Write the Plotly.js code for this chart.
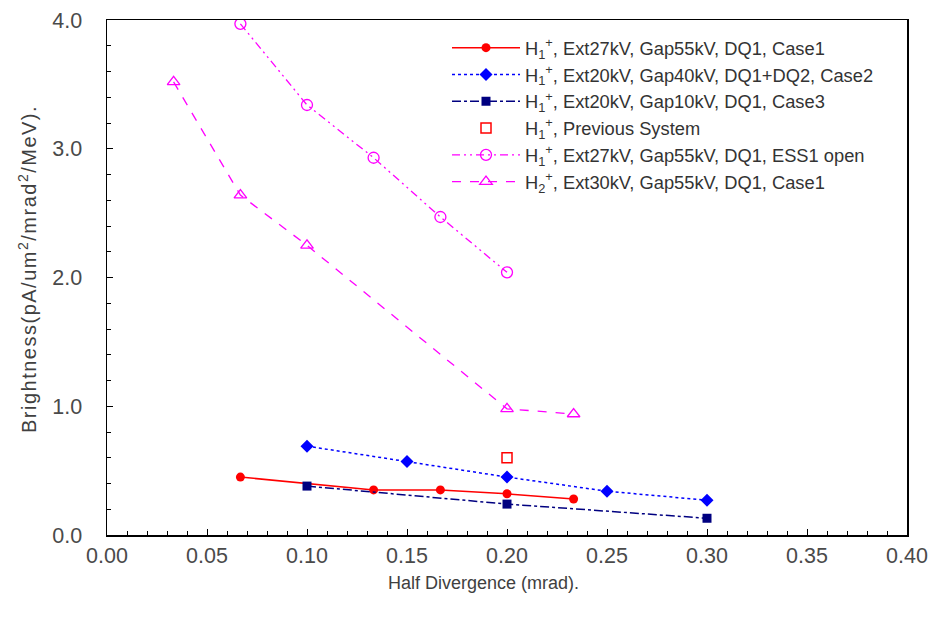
<!DOCTYPE html>
<html>
<head>
<meta charset="utf-8">
<script src="https://cdn.plot.ly/plotly-3.0.1.min.js"></script>
<style>
html,body{margin:0;padding:0;background:#fff;}
#chart{width:938px;height:624px;}
.annotation[data-index="1"] text{letter-spacing:1.5px;}
</style>
</head>
<body>
<div id="chart"></div>
<script>
// Data
const case1X = [0.0667, 0.1333, 0.1667, 0.2, 0.2333];
const case1Y = [0.45, 0.35, 0.35, 0.32, 0.28];
const case2X = [0.1, 0.15, 0.2, 0.25, 0.3];
const case2Y = [0.69, 0.57, 0.45, 0.34, 0.27];
const case3X = [0.1, 0.2, 0.3];
const case3Y = [0.38, 0.24, 0.13];
const prevX = [0.2];
const prevY = [0.60];
const essX = [0.0667, 0.1, 0.1333, 0.1667, 0.2];
const essY = [3.97, 3.34, 2.93, 2.47, 2.04];
const h2X = [0.0333, 0.0667, 0.1, 0.2, 0.2333];
const h2Y = [3.52, 2.64, 2.25, 0.98, 0.94];
const seriesNames = [
  'H<sub>1</sub><sup>+</sup>, Ext27kV, Gap55kV, DQ1, Case1',
  'H<sub>1</sub><sup>+</sup>, Ext20kV, Gap40kV, DQ1+DQ2, Case2',
  'H<sub>1</sub><sup>+</sup>, Ext20kV, Gap10kV, DQ1, Case3',
  'H<sub>1</sub><sup>+</sup>, Previous System',
  'H<sub>1</sub><sup>+</sup>, Ext27kV, Gap55kV, DQ1, ESS1 open',
  'H<sub>2</sub><sup>+</sup>, Ext30kV, Gap55kV, DQ1, Case1'
];
const xTitle = 'Half Divergence (mrad).';
const yTitle = 'Brightness(pA/um<sup>2</sup>/mrad<sup>2</sup>/MeV).';

const traces = [
  {x: case1X, y: case1Y, name: seriesNames[0], mode: 'lines+markers',
   line: {color: '#ff0000', width: 1.5, dash: 'solid'},
   marker: {symbol: 'circle', color: '#ff0000', size: 9}},
  {x: case2X, y: case2Y, name: seriesNames[1], mode: 'lines+markers',
   line: {color: '#0000ff', width: 1.5, dash: 'dot'},
   marker: {symbol: 'diamond', color: '#0000ff', size: 10}},
  {x: case3X, y: case3Y, name: seriesNames[2], mode: 'lines+markers',
   line: {color: '#000080', width: 1.5, dash: 'dashdot'},
   marker: {symbol: 'square', color: '#000080', size: 9}},
  {x: prevX, y: prevY, name: seriesNames[3], mode: 'markers',
   marker: {symbol: 'square-open', color: '#ff0000', size: 10, line: {width: 1.5}}},
  {x: essX, y: essY, name: seriesNames[4], mode: 'lines+markers',
   line: {color: '#ff00ff', width: 1.3, dash: '8px,4px,2px,4px,2px,4px'},
   marker: {symbol: 'circle-open', color: '#ff00ff', size: 11, line: {width: 1.3}}},
  {x: h2X, y: h2Y, name: seriesNames[5], mode: 'lines+markers',
   line: {color: '#ff00ff', width: 1.3, dash: 'dash'},
   marker: {symbol: 'triangle-up-open', color: '#ff00ff', size: 11, line: {width: 1.3}}}
];

const fam = 'Liberation Sans, Arial, sans-serif';

const layout = {
  width: 938, height: 624,
  margin: {l: 107, r: 31, t: 20, b: 89},
  paper_bgcolor: '#fff', plot_bgcolor: '#fff',
  font: {family: fam, color: '#404040'},
  showlegend: true,
  legend: {x: 0.425, y: 0.982, xanchor: 'left', yanchor: 'top',
    bgcolor: 'rgba(0,0,0,0)', borderwidth: 0,
    font: {family: fam, size: 18.3, color: '#333'},
    tracegroupgap: 0, itemwidth: 68},
  xaxis: {
    range: [0, 0.4], dtick: 0.05, tickformat: '.2f',
    showgrid: false, zeroline: false,
    showline: true, linecolor: '#000', linewidth: 1.5, mirror: true,
    ticks: 'inside', ticklen: 6, tickcolor: '#000',
    minor: {dtick: 0.01, ticks: 'inside', ticklen: 4, tickcolor: '#000', showgrid: false},
    tickfont: {family: fam, size: 21.5, color: '#4a4a4a'},
    ticklabelstandoff: 1
  },
  yaxis: {
    range: [0, 4], dtick: 1, tickformat: '.1f',
    showgrid: false, zeroline: false,
    showline: true, linecolor: '#000', linewidth: 1.5, mirror: true,
    ticks: 'inside', ticklen: 6, tickcolor: '#000',
    minor: {dtick: 0.2, ticks: 'inside', ticklen: 4, tickcolor: '#000', showgrid: false},
    tickfont: {family: fam, size: 21.5, color: '#4a4a4a'},
    ticklabelstandoff: 19
  },
  annotations: [
    {text: xTitle, xref: 'paper', yref: 'paper', x: 0.47, y: -0.093,
     xanchor: 'center', yanchor: 'middle', showarrow: false,
     font: {family: fam, size: 18, color: '#404040'}},
    {text: yTitle, xref: 'paper', yref: 'paper', x: -0.1, y: 0.516,
     xanchor: 'center', yanchor: 'middle', showarrow: false, textangle: -90,
     font: {family: fam, size: 20, color: '#404040'}}
  ]
};

Plotly.newPlot('chart', traces, layout, {displayModeBar: false, staticPlot: true});
</script>
</body>
</html>
